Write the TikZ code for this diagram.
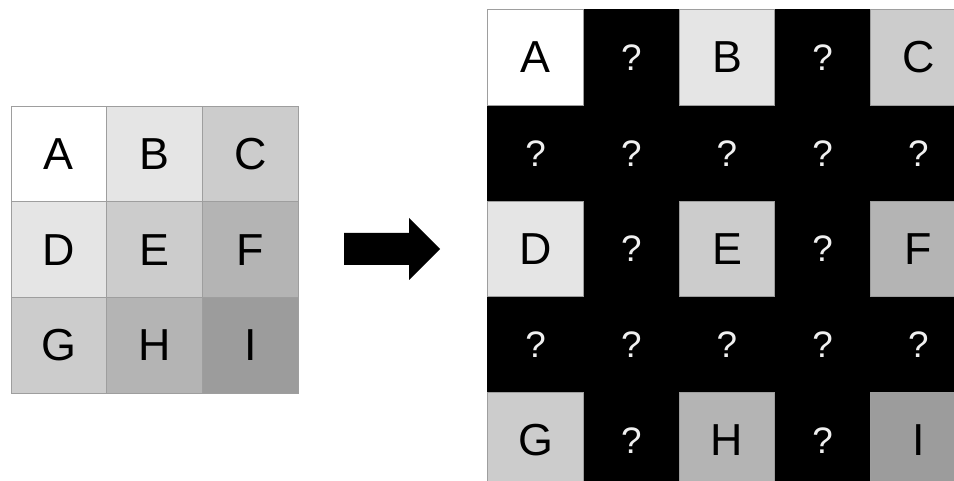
\documentclass[tikz,border=0pt]{standalone}
\usepackage{fontspec}
\setmainfont{Liberation Sans}
\begin{document}
\begin{tikzpicture}[x=1bp,y=-1bp,
  cellbox/.style={draw=black!38,line width=0.8bp,minimum width=95.7bp,minimum height=95.7bp,inner sep=0pt,anchor=north west,font=\fontsize{45}{45}\selectfont},
  unknown/.style={cellbox,draw=none,fill=black,text=black!6,font=\fontsize{37}{37}\selectfont},
  arrowshape/.style={fill=black}]
\useasboundingbox (0,0) rectangle (954,481);
\definecolor{g0}{gray}{1.0}
\definecolor{g1}{gray}{0.90}
\definecolor{g2}{gray}{0.80}
\definecolor{g3}{gray}{0.705}
\definecolor{g4}{gray}{0.61}
% small source grid
\def\cs{95.7}
\foreach \r/\c/\t/\col [count=\i] in {0/0/A/g0,0/1/B/g1,0/2/C/g2,1/0/D/g1,1/1/E/g2,1/2/F/g3,2/0/G/g2,2/1/H/g3,2/2/I/g4}{
  \node[cellbox,fill=\col] (s\i) at ({10.7+\c*\cs},{105.7+\r*\cs}) {\t};
}
% arrow
\coordinate (a1) at (344,233);
\fill[arrowshape] (a1) -- (409,233) -- (409,218) -- (440,249) -- (409,280) -- (409,265) -- (344,265) -- cycle;
% enlarged grid: known pixels on even rows/columns, unknown ones in between
\begin{scope}
\clip (0,0) rectangle (954,481);
\fill[black] (487.3,9.3) rectangle (954,481);
\foreach \r in {0,...,4}{
  \foreach \c in {0,...,4}{
    \pgfmathtruncatemacro{\known}{(mod(\r,2)==0)&&(mod(\c,2)==0)}
    \ifnum\known=0
      \node[unknown] (u\r\c) at ({487.3+\c*\cs},{9.3+\r*\cs}) {?};
    \fi
  }
}
\foreach \r/\c/\t/\col in {0/0/A/g0,0/2/B/g1,0/4/C/g2,2/0/D/g1,2/2/E/g2,2/4/F/g3,4/0/G/g2,4/2/H/g3,4/4/I/g4}{
  \node[cellbox,fill=\col] (b\r\c) at ({487.3+\c*\cs},{9.3+\r*\cs}) {\t};
}
\end{scope}
\end{tikzpicture}
\end{document}
